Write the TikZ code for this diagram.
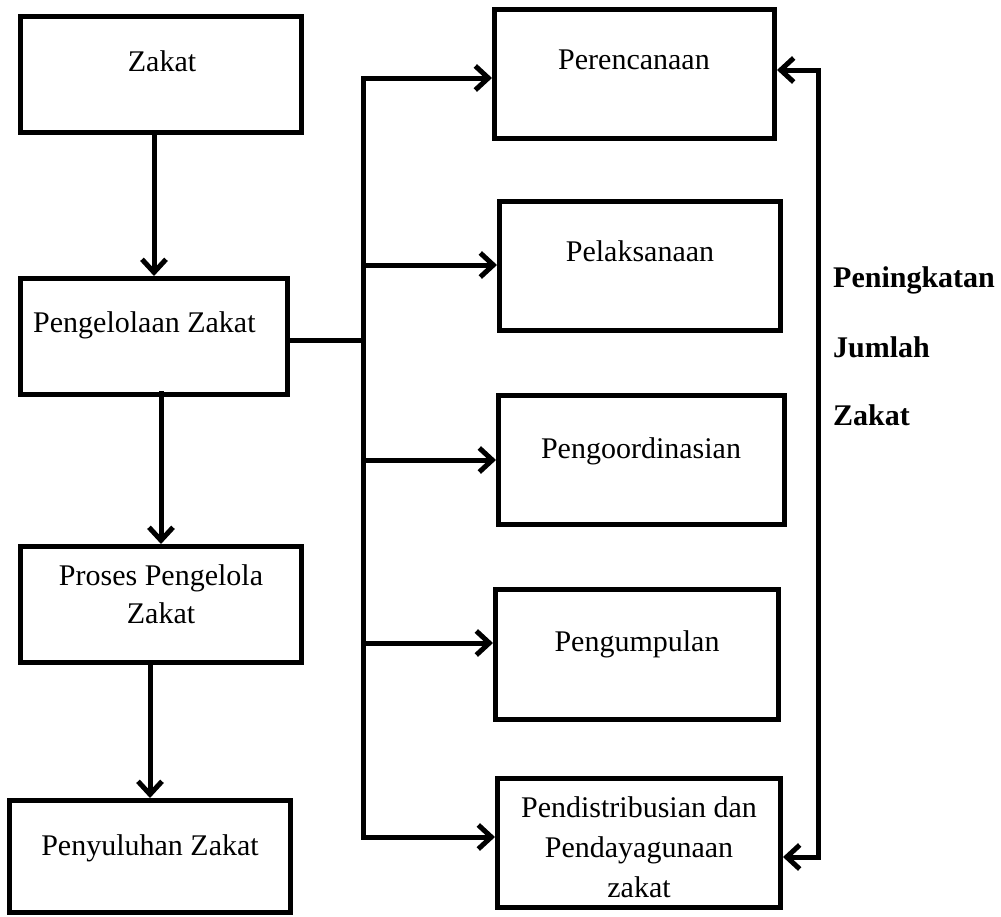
\documentclass[tikz,border=0pt]{standalone}
\usepackage{fontspec}
\setmainfont{Liberation Serif}
\usetikzlibrary{arrows.meta}
\begin{document}
\begin{tikzpicture}[x=1pt,y=-1pt,
  box/.style={draw=black,line width=5pt,rectangle,inner sep=0pt,fill=white},
  lbl/.style={font=\fontsize{30}{38}\selectfont,inner sep=0pt,anchor=base,align=center},
  side/.style={font=\fontsize{30}{36}\selectfont\bfseries,inner sep=0pt,anchor=base west},
  conn/.style={line width=5pt,line join=miter},
  arr/.style={conn,-{Straight Barb[length=13pt,width=24pt]}},
  darr/.style={conn,{Straight Barb[length=13pt,width=24pt]}-{Straight Barb[length=13pt,width=24pt]}}]
\useasboundingbox (0,0) rectangle (1001,916);
% left column
\node[box,minimum width=281pt,minimum height=116pt] (zakat) at (161,74.5) {};
\node[box,minimum width=267pt,minimum height=116pt] (peng) at (154,336.5) {};
\node[box,minimum width=281pt,minimum height=116pt] (proses) at (161,604.5) {};
\node[box,minimum width=281pt,minimum height=112pt] (peny) at (150,856.5) {};
% right column
\node[box,minimum width=280pt,minimum height=129pt] (per) at (634.5,74) {};
\node[box,minimum width=281pt,minimum height=129pt] (pel) at (640,266) {};
\node[box,minimum width=286pt,minimum height=129pt] (koor) at (641.5,460) {};
\node[box,minimum width=283pt,minimum height=130pt] (kump) at (637,654.5) {};
\node[box,minimum width=283pt,minimum height=129pt] (pend) at (639,843) {};
% texts
\node[lbl] (tzakat) at (162,71) {Zakat};
\node[lbl,anchor=base west] (tpeng) at (33,332) {Pengelolaan Zakat};
\node[lbl,font=\fontsize{30}{38}\selectfont] (tproses) at (161,623) {Proses Pengelola\\Zakat};
\node[lbl] (tpeny) at (150,855) {Penyuluhan Zakat};
\node[lbl] (tper) at (634,69) {Perencanaan};
\node[lbl] (tpel) at (640,261) {Pelaksanaan};
\node[lbl] (tkoor) at (641,458) {Pengoordinasian};
\node[lbl] (tkump) at (637,651) {Pengumpulan};
\node[lbl,font=\fontsize{30}{40}\selectfont] (tpend) at (639,897) {Pendistribusian dan\\Pendayagunaan\\zakat};
\node[side] (s1) at (833,287) {Peningkatan};
\node[side] (s2) at (833,357) {Jumlah};
\node[side] (s3) at (833,425) {Zakat};
% vertical flow
\draw[arr] (zakat.south -| peng.north) -- (peng.north);
\draw[arr] ([yshift=6pt]peng.south -| proses.north) -- (proses.north);
\draw[arr] (proses.south -| peny.north) -- (peny.north);
% bus
\coordinate (b0) at (363,340);
\coordinate (b1) at (363,78);
\coordinate (b2) at (363,265);
\coordinate (b3) at (363,460);
\coordinate (b4) at (363,643);
\coordinate (b5) at (363,837);
\draw[conn] (peng.east |- b0) -- (b0);
\draw[arr] (b5) -- (b1) -- (per.west |- b1);
\draw[arr] (b1) -- (b5) -- (pend.west |- b5);
\draw[arr] (b2) -- (pel.west |- b2);
\draw[arr] (b3) -- (koor.west |- b3);
\draw[arr] (b4) -- (kump.west |- b4);
% feedback
\coordinate (f1) at (818,70);
\coordinate (f2) at (818,857);
\draw[darr] (per.east |- f1) -- (f1) -- (f2) -- (pend.east |- f2);
\end{tikzpicture}
\end{document}
